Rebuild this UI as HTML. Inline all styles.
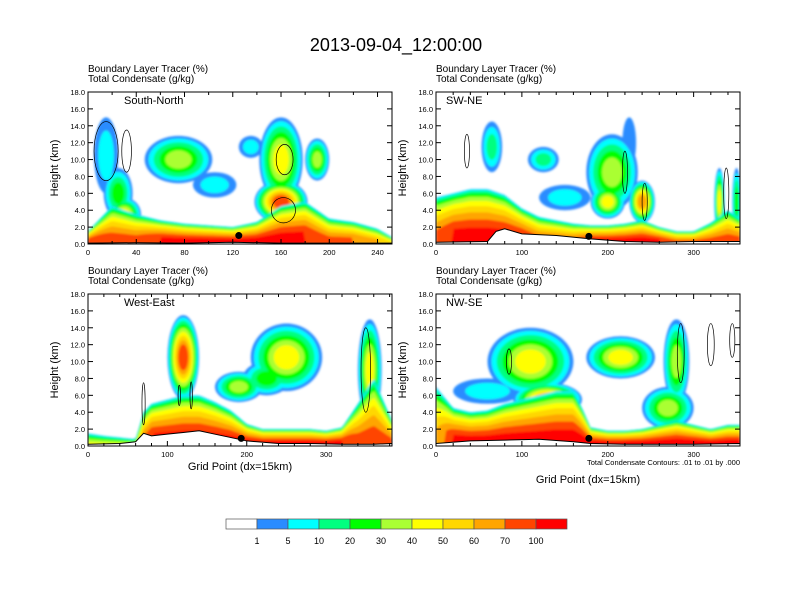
<!DOCTYPE html>
<html><head><meta charset="utf-8"><style>
body{margin:0;background:#fff;}
svg{display:block;font-family:"Liberation Sans",sans-serif;}
</style></head><body>
<svg id="root" width="792" height="612" viewBox="0 0 792 612" xmlns="http://www.w3.org/2000/svg">
<defs><filter id="soft" x="-5%" y="-5%" width="110%" height="110%"><feGaussianBlur stdDeviation="1.1"/></filter></defs>
<text x="396" y="51" font-size="18" text-anchor="middle">2013-09-04_12:00:00</text>
</svg>
<script>
const levelColors=["#ffffff","#2a8cff","#00ffff","#00ff80","#00ff00","#aaff33","#ffff00","#ffd700","#ffa500","#ff4500","#ff0000"];
const levelLabels=["1","5","10","20","30","40","50","60","70","100"];

// Panel 1: South-North
const p1BlX=[0,20,40,60,80,100,120,140,160,180,200,220,240,252];
const p1BlTop=[1.5,4.5,3.5,2.8,2.4,2.2,2.0,2.6,4.5,5.0,3.0,2.6,1.8,0.8];
const p1BlPeak=[10,9,9,10,10,10,10,10,10,10,9,9,8,7];
const p1GroundX=[0,40,80,120,160,200,252];
const p1Ground=[0.1,0.15,0.1,0.2,0.1,0.1,0.1];
const p1BlobX=[15,25,75,135,160,190,160,105,30];
const p1BlobY=[10.5,6,10,11.5,10,10,5,7,3.5];
const p1BlobRx=[10,12,28,10,18,10,22,18,14];
const p1BlobRy=[4.5,3,2.8,1.3,5,2.5,2.5,1.5,2];
const p1BlobPeak=[2,4,5,2,6,5,9,2,6];
const p1CtX=[163,162,15,32];
const p1CtY=[10,4,11,11];
const p1CtRx=[7,10,10,4];
const p1CtRy=[1.8,1.5,3.5,2.5];

// Panel 2: SW-NE
const p2BlX=[0,20,40,60,80,100,120,140,160,180,200,220,240,260,280,300,320,340,354];
const p2BlTop=[5.5,6,6.5,6.5,5.8,4.2,3.2,2.8,2.4,2.2,2.2,2.4,2.8,2.0,1.5,1.5,2.5,4,3];
const p2BlPeak=[9,10,10,10,10,10,9,9,9,10,10,10,10,10,9,9,9,9,9];
const p2GroundX=[0,60,70,80,100,140,180,220,260,300,354];
const p2Ground=[0.2,0.3,1.5,1.8,1.2,1.0,0.6,0.3,0.2,0.3,0.3];
const p2BlobX=[65,125,205,225,240,330,350,150,200];
const p2BlobY=[11.5,10,8.5,12,5,5,5,5.5,5];
const p2BlobRx=[12,18,30,8,15,6,5,30,20];
const p2BlobRy=[3,1.5,4.5,3,2.5,4,4,1.5,2];
const p2BlobPeak=[3,3,5,1,8,6,4,2,6];
const p2CtX=[220,243,36,338];
const p2CtY=[8.5,5,11,6];
const p2CtRx=[3,3,3,3];
const p2CtRy=[2.5,2.2,2,3];

// Panel 3: West-East
const p3BlX=[0,20,40,60,70,80,100,120,140,160,180,200,220,240,260,280,300,320,340,360,383];
const p3BlTop=[1.5,1.2,1,0.8,4,5,5.5,6,6,5.2,4.2,2.6,2,2,2,2,1.8,2.2,5,8,3];
const p3BlPeak=[6,6,6,6,9,10,10,10,10,10,10,10,10,10,10,10,10,10,9,9,9];
const p3GroundX=[0,40,60,70,80,100,120,140,160,200,240,280,320,360,383];
const p3Ground=[0.2,0.3,0.5,1.5,1.2,1.4,1.6,1.8,1.4,0.6,0.3,0.3,0.2,0.2,0.3];
const p3BlobX=[120,250,190,355,225];
const p3BlobY=[10.5,10.5,7,9,8];
const p3BlobRx=[20,45,30,15,30];
const p3BlobRy=[5,4,1.8,6,2];
const p3BlobPeak=[9,6,5,6,4];
const p3CtX=[350,115,130,70];
const p3CtY=[9,6,6,5];
const p3CtRx=[6,1.5,1.5,2];
const p3CtRy=[5,1.2,1.6,2.5];

// Panel 4: NW-SE
const p4BlX=[0,20,40,60,80,100,120,140,160,170,180,200,220,240,260,280,300,320,340,354];
const p4BlTop=[7,4.5,4,4.2,5,5.5,6,6.5,6.5,4.5,2.2,1.8,1.8,2,2.5,3,2.5,2,2.5,2.5];
const p4BlPeak=[8,10,10,10,10,10,10,10,10,10,10,10,10,10,10,10,10,10,10,10];
const p4GroundX=[0,40,80,120,160,180,220,260,300,354];
const p4Ground=[0.3,0.6,0.7,0.8,0.5,0.3,0.2,0.2,0.2,0.3];
const p4BlobX=[110,215,280,270,130,60];
const p4BlobY=[10,10.5,10,4.5,5.5,6.5];
const p4BlobRx=[50,40,15,30,40,40];
const p4BlobRy=[4,2.5,5,2.5,2,1.5];
const p4BlobPeak=[6,6,5,5,8,2];
const p4CtX=[285,320,345,85];
const p4CtY=[11,12,12.5,10];
const p4CtRx=[4,4,3,3];
const p4CtRy=[3.5,2.5,2,1.5];

const panels=[
 {name:"south-north",title:"South-North",x0:88,y0:92,w:304,h:152,xmax:252,major:40,blX:p1BlX,blTop:p1BlTop,blPeak:p1BlPeak,gX:p1GroundX,g:p1Ground,bx:p1BlobX,by:p1BlobY,brx:p1BlobRx,bry:p1BlobRy,bp:p1BlobPeak,cx:p1CtX,cy:p1CtY,crx:p1CtRx,cry:p1CtRy,dot:[125,1.0],xlabel:false},
 {name:"sw-ne",title:"SW-NE",x0:436,y0:92,w:304,h:152,xmax:354,major:100,blX:p2BlX,blTop:p2BlTop,blPeak:p2BlPeak,gX:p2GroundX,g:p2Ground,bx:p2BlobX,by:p2BlobY,brx:p2BlobRx,bry:p2BlobRy,bp:p2BlobPeak,cx:p2CtX,cy:p2CtY,crx:p2CtRx,cry:p2CtRy,dot:[178,0.9],xlabel:false},
 {name:"west-east",title:"West-East",x0:88,y0:294,w:304,h:152,xmax:383,major:100,blX:p3BlX,blTop:p3BlTop,blPeak:p3BlPeak,gX:p3GroundX,g:p3Ground,bx:p3BlobX,by:p3BlobY,brx:p3BlobRx,bry:p3BlobRy,bp:p3BlobPeak,cx:p3CtX,cy:p3CtY,crx:p3CtRx,cry:p3CtRy,dot:[193,0.9],xlabel:true},
 {name:"nw-se",title:"NW-SE",x0:436,y0:294,w:304,h:152,xmax:354,major:100,blX:p4BlX,blTop:p4BlTop,blPeak:p4BlPeak,gX:p4GroundX,g:p4Ground,bx:p4BlobX,by:p4BlobY,brx:p4BlobRx,bry:p4BlobRy,bp:p4BlobPeak,cx:p4CtX,cy:p4CtY,crx:p4CtRx,cry:p4CtRy,dot:[178,0.9],xlabel:true}
];
const NS="http://www.w3.org/2000/svg";
const root=document.getElementById('root');
function mk(tag,attrs,parent){const e=document.createElementNS(NS,tag);for(const k in attrs)e.setAttribute(k,attrs[k]);(parent||root).appendChild(e);return e;}
function interp(xs,ys,x){if(x<=xs[0])return ys[0];for(let i=1;i<xs.length;i++){if(x<=xs[i]){const t=(x-xs[i-1])/(xs[i]-xs[i-1]);return ys[i-1]+t*(ys[i]-ys[i-1]);}}return ys[ys.length-1];}

panels.forEach((p,pi)=>{
 const sx=v=>p.x0+v/p.xmax*p.w;
 const sy=v=>p.y0+p.h-v/18*p.h;
 const g=mk('g',{});
 
 
 const t1=mk('text',{x:p.x0,y:p.y0-20,'font-size':10},g);t1.textContent="Boundary Layer Tracer   (%)";
 
 const t2=mk('text',{x:p.x0,y:p.y0-10,'font-size':10},g);t2.textContent="Total Condensate   (g/kg)";
 
 const cid='clip'+pi;
 const cp=mk('clipPath',{id:cid},g);mk('rect',{x:p.x0,y:p.y0,width:p.w,height:p.h},cp);
 const field=mk('g',{'clip-path':'url(#'+cid+')'},g);
 const inner=mk('g',{filter:'url(#soft)'},field);
 
 
 for(let L=1;L<=10;L++){
  p.bx.forEach((bx,i)=>{
   const pk=p.bp[i];if(L>pk)return;
   const f=1-0.8*Math.pow((L-1)/pk,1.2);
   const e=mk('ellipse',{cx:sx(p.bx[i]),cy:sy(p.by[i]),rx:p.brx[i]/p.xmax*p.w*f,ry:p.bry[i]/18*p.h*f,fill:levelColors[L]},inner);
   
   
  });
 }
 const N=120;
 for(let L=1;L<=10;L++){
  let pts=[];
  for(let k=0;k<=N;k++){const x=k/N*p.xmax;const top=interp(p.blX,p.blTop,x);const pk=interp(p.blX,p.blPeak,x);
   let h= L>pk+0.01?0:top*(1-0.7*Math.pow((L-1)/Math.max(pk-1,1),2));pts.push(sx(x)+','+sy(h));}
  pts.push(sx(p.xmax)+','+sy(0));pts.push(sx(0)+','+sy(0));
  const pl=mk('polygon',{points:pts.join(' '),fill:levelColors[L]},inner);
  
  
 }
 p.cx.forEach((c,i)=>{
  const e=mk('ellipse',{cx:sx(p.cx[i]),cy:sy(p.cy[i]),rx:p.crx[i]/p.xmax*p.w,ry:p.cry[i]/18*p.h,fill:'none',stroke:'#000','stroke-width':0.7},field);
  
  
 });
 let gp=[];for(let k=0;k<p.gX.length;k++)gp.push(sx(p.gX[k])+','+sy(p.g[k]));
 const gr=mk('polygon',{points:gp.join(' ')+' '+sx(p.xmax)+','+sy(0)+' '+sx(0)+','+sy(0),fill:'#fff',stroke:'#000','stroke-width':1},field);
 
 
 const dot=mk('circle',{cx:sx(p.dot[0]),cy:sy(p.dot[1]),r:3.5,fill:'#000'},field);
 
 
 const fr=mk('rect',{x:p.x0,y:p.y0,width:p.w,height:p.h,fill:'none',stroke:'#000','stroke-width':1},g);
 
 const lab=mk('text',{x:p.x0+(pi%2?10:36),y:p.y0+12,'font-size':11},g);lab.textContent=p.title;
 
 for(let v=0;v<=18;v+=2){const y=sy(v);
  mk('line',{x1:p.x0,x2:p.x0+5,y1:y,y2:y,stroke:'#000'},g);
  mk('line',{x1:p.x0+p.w,x2:p.x0+p.w-5,y1:y,y2:y,stroke:'#000'},g);
  const t=mk('text',{x:p.x0-3,y:y+3,'font-size':7.5,'text-anchor':'end'},g);t.textContent=v.toFixed(1);
  }
 const yt=mk('text',{x:0,y:0,'font-size':11,'text-anchor':'middle',transform:`translate(${p.x0-30},${p.y0+p.h/2}) rotate(-90)`},g);yt.textContent="Height (km)";
 
 for(let v=0;v<=p.xmax;v+=20){const x=sx(v);const maj=v%p.major===0;
  mk('line',{x1:x,x2:x,y1:p.y0+p.h,y2:p.y0+p.h-(maj?5:3),stroke:'#000'},g);
  mk('line',{x1:x,x2:x,y1:p.y0,y2:p.y0+(maj?5:3),stroke:'#000'},g);
  if(maj){const t=mk('text',{x:x,y:p.y0+p.h+11,'font-size':7.5,'text-anchor':'middle'},g);t.textContent=v;
   }}
 if(p.xlabel){const xt=mk('text',{x:p.x0+p.w/2,y:pi==2?p.y0+p.h+24:p.y0+p.h+37,'font-size':11,'text-anchor':'middle'},g);xt.textContent="Grid Point (dx=15km)";
  }
 if(pi==3){const ct=mk('text',{x:p.x0+p.w,y:p.y0+p.h+19,'font-size':7.5,'text-anchor':'end'},g);ct.textContent="Total Condensate Contours: .01 to .01 by .000";
  }
});
const cb=mk('g',{});


const bw=31;
levelColors.forEach((c,i)=>{const r=mk('rect',{x:226+i*bw,y:519,width:bw,height:10,fill:c,stroke:'#555','stroke-width':0.7},cb);
 });
levelLabels.forEach((l,i)=>{const t=mk('text',{x:226+(i+1)*bw,y:544,'font-size':9,'text-anchor':'middle'},cb);t.textContent=l;
 });
</script>
</body></html>
